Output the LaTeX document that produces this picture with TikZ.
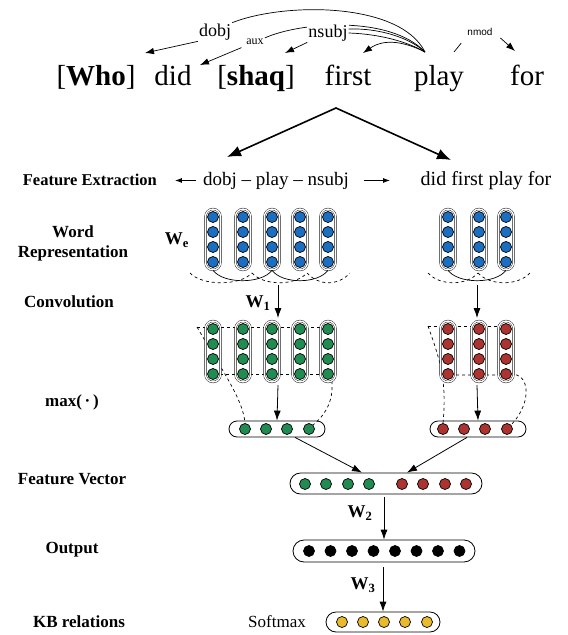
\documentclass[tikz,border=0pt]{standalone}
\usepackage{fontspec}
\setmainfont{Liberation Serif}
\newfontfamily\depsans{Liberation Sans}
\usetikzlibrary{arrows.meta,positioning,calc}

\definecolor{wblue}{RGB}{28,110,192}
\definecolor{cgreen}{RGB}{32,140,82}
\definecolor{pred}{RGB}{172,52,48}
\definecolor{syellow}{RGB}{232,186,44}

\tikzset{
  wordtok/.style={font=\fontsize{29}{31}\selectfont,inner sep=0pt,anchor=base},
  deplabel/.style={font=\fontsize{18}{20}\selectfont,fill=white,inner sep=1pt},
  fetext/.style={font=\fontsize{20}{22}\selectfont,inner sep=1pt,anchor=base},
  rowlabel/.style={font=\bfseries\fontsize{17}{20}\selectfont,align=center},
  mlabel/.style={font=\bfseries\fontsize{18}{20}\selectfont},
  unitdot/.style={circle,draw=black,line width=0.7pt,minimum size=11pt,inner sep=0pt},
  colbox/.style={draw=black,fill=white,double,double distance=1.4pt,rounded corners=7.5pt,
    minimum width=15pt,minimum height=61pt,inner sep=0pt},
  vecbox/.style={draw=black,fill=white,line width=0.8pt,inner sep=0pt},
  deparrow/.style={-{Latex[length=9pt,width=6.5pt]},line width=0.7pt},
  netarrow/.style={-{Latex[length=10pt,width=7pt]},line width=0.8pt},
  smallarrow/.style={-{Latex[length=7pt,width=5pt]},line width=0.8pt},
}

\begin{document}
\begin{tikzpicture}[x=1pt,y=-1pt]
\useasboundingbox (0,0) rectangle (568,635);
% question and its parse:
\node[wordtok] (who) at (96,85) {[\textbf{Who}]};
\node[wordtok] (did) at (173,85) {did};
\node[wordtok] (shaq) at (256,85) {[\textbf{shaq}]};
\node[wordtok] (first) at (348,85) {first};
\node[wordtok] (play) at (439,85) {play};
\node[wordtok] (for) at (527,85) {for};
\coordinate (playtop) at (425,52);
\coordinate (playright) at (454,52);
\coordinate (whotip) at (145,53);
\coordinate (didtip) at (200,65);
\coordinate (shaqtip) at (285,53);
\coordinate (firsttip) at (363,53);
\coordinate (fortip) at (515,51);
\node[deplabel] (ldobj) at (215,32) {dobj};
\draw[line width=0.7pt] (ldobj.north east) .. controls (285,2) and (400,2) .. (playtop);
\draw[deparrow] (ldobj.south west) -- (whotip);
\node[deplabel,font=\fontsize{12}{13}\selectfont] (laux) at (255,42) {aux};
\draw[line width=0.7pt] (laux.north east) .. controls (300,22) and (390,15) .. (playtop);
\draw[deparrow,shorten <=4pt] (laux.south west) -- (didtip);
\node[deplabel] (lnsubj) at (328,33) {nsubj};
\draw[line width=0.7pt] ([yshift=4pt]lnsubj.east) .. controls (380,28) and (410,38) .. (playtop);
\draw[line width=0.7pt] (lnsubj.east) .. controls (380,34) and (408,42) .. (playtop);
\draw[deparrow] (lnsubj.south west) -- (shaqtip);
\draw[deparrow] (playtop) .. controls (405,42) and (385,38) .. (firsttip);
\node[deplabel,font=\depsans\fontsize{10}{11}\selectfont] (lnmod) at (480,32) {nmod};
\draw[line width=0.7pt,shorten >=8pt] (playright) -- (lnmod.south west);
\draw[deparrow,shorten <=9pt] (lnmod.east) -- (fortip);

% feature extraction:
\node[rowlabel,font=\bfseries\fontsize{16.5}{18}\selectfont,anchor=base east,inner sep=0pt] (lfeat) at (157,185) {Feature Extraction};
\node[fetext,font=\fontsize{19}{21}\selectfont] (fepath) at (276,185) {dobj – play – nsubj};
\node[fetext] (fewords) at (486,185) {did first play for};
\coordinate (split) at (336,108);
\coordinate (fepathtip) at (227,157);
\coordinate (fewordstip) at (451,160);
\draw[line width=1.6pt,{Latex[length=14pt,width=11pt]}-{Latex[length=14pt,width=11pt]}] (fepathtip) -- (split) -- (fewordstip);
\coordinate[left=27pt of fepath.west] (feleft);
\coordinate[right=40pt of fepath.east] (feright);
\draw[smallarrow,shorten <=6pt] (fepath.west) -- (feleft);
\draw[smallarrow,shorten <=14pt] (fepath.east) -- (feright);

% row labels:
\node[rowlabel] (lword) at (73,243) {Word\\Representation};
\node[rowlabel,anchor=base] (lconv) at (69,307) {Convolution};
\node[rowlabel,anchor=base] (lmax) at (72,406) {max(\,·\,)};
\node[rowlabel,anchor=base] (lfv) at (72,484) {Feature Vector};
\node[rowlabel,anchor=base] (lout) at (72,553) {Output};
\node[rowlabel,anchor=base] (lkb) at (79,627) {KB relations};

% word representation:
\foreach \x [count=\i] in {213,243,272,300,328}{
  \node[colbox] (bl\i) at (\x,239.5) {};
  \foreach \y [count=\j] in {217,232,247,262}
    \node[unitdot,fill=wblue] (bl\i-\j) at (\x,\y) {};
}
\foreach \x [count=\i] in {448,479,506}{
  \node[colbox] (br\i) at (\x,239.5) {};
  \foreach \y [count=\j] in {217,232,247,262}
    \node[unitdot,fill=wblue] (br\i-\j) at (\x,\y) {};
}
\node[mlabel] (wemb) at (177,240) {W\textsubscript{e}};
\draw[line width=0.7pt] (bl1.south) .. controls +(10,14) and +(-10,14) .. (bl3.south);
\draw[line width=0.7pt] (bl3.south) .. controls +(10,14) and +(-10,14) .. (bl5.south);
\draw[line width=0.7pt] (br1.south) .. controls +(10,14) and +(-10,14) .. (br3.south);
\foreach \a/\b in {190/252,252/307,307/350,428/478,478/530}
  \draw[dashed,line width=0.7pt] (\a,273) .. controls +(12,13) and +(-12,13) .. (\b,273);

% convolution:
\coordinate (convinl) at (278,285);
\coordinate (convoutl) at (278,318);
\coordinate (convinr) at (477,285);
\coordinate (convoutr) at (477,318);
\draw[netarrow] (convinl) -- (convoutl);
\draw[netarrow] (convinr) -- (convoutr);
\node[mlabel] (w1) at (258,303) {W\textsubscript{1}};

% pooling:
\node[vecbox,minimum width=96pt,minimum height=16pt,rounded corners=8pt] (pl) at (277,429) {};
\foreach \x [count=\i] in {245,266,287,309}
  \node[unitdot,fill=cgreen] (pl-\i) at (\x,429) {};
\node[vecbox,minimum width=96pt,minimum height=16pt,rounded corners=8pt] (pr) at (478,429) {};
\foreach \x [count=\i] in {443,464,485,507}
  \node[unitdot,fill=pred] (pr-\i) at (\x,429) {};
\draw[dashed,line width=0.7pt] (197,327) -- (330,327);
\draw[dashed,line width=0.7pt] (214,374) -- (330,374);
\draw[dashed,line width=0.7pt] (197,327) .. controls (225,375) and (243,400) .. (pl-1.north);
\draw[dashed,line width=0.7pt] (332,327) -- (332,388) .. controls (332,405) and (322,418) .. (pl-4.north east);
\draw[dashed,line width=0.7pt] (428,326) -- (510,326);
\draw[dashed,line width=0.7pt] (450,375) -- (517,375) .. controls (530,380) and (530,405) .. (pr-4.north east);
\draw[dashed,line width=0.7pt] (428,326) .. controls (440,360) and (447,380) .. (pr-1.north);
\foreach \x [count=\i] in {213,243,272,300,328}{
  \node[colbox] (gl\i) at (\x,351.5) {};
  \foreach \y [count=\j] in {329,344,359,374}
    \node[unitdot,fill=cgreen] (gl\i-\j) at (\x,\y) {};
}
\foreach \x [count=\i] in {448,479,506}{
  \node[colbox] (rd\i) at (\x,351.5) {};
  \foreach \y [count=\j] in {329,344,359,374}
    \node[unitdot,fill=pred] (rd\i-\j) at (\x,\y) {};
}
\coordinate (poolinl) at (278,385);
\coordinate (poolinr) at (477,385);
\draw[netarrow] (poolinl) -- (pl.north);
\draw[netarrow] (poolinr) -- (pr.north);

% feature vector, output, softmax:
\node[vecbox,minimum width=192pt,minimum height=21pt,rounded corners=10.5pt] (fv) at (386,483.5) {};
\foreach \x [count=\i] in {305,326,348,369}
  \node[unitdot,fill=cgreen] (fv-\i) at (\x,484) {};
\foreach \x [count=\i] in {402,423,445,466}
  \node[unitdot,fill=pred] (fv-r\i) at (\x,484) {};
\draw[netarrow] ([xshift=18pt]pl.south) -- ([xshift=-24pt]fv.north);
\draw[netarrow] ([xshift=-11pt]pr.south) -- ([xshift=21pt]fv.north);
\node[vecbox,minimum width=182pt,minimum height=22pt,rounded corners=11pt] (out) at (384,551) {};
\foreach \x [count=\i] in {309,330.5,352,373.5,395,416.5,438,459.5}
  \node[unitdot,fill=black] (out-\i) at (\x,551) {};
\draw[netarrow,shorten <=3pt] (fv.south -| out.north) -- (out.north);
\node[mlabel] (w2) at (360,513) {W\textsubscript{2}};
\node[vecbox,minimum width=114pt,minimum height=20pt,rounded corners=10pt] (sm) at (383,622) {};
\foreach \x [count=\i] in {342,363,384,405,427}
  \node[unitdot,fill=syellow] (sm-\i) at (\x,622) {};
\draw[netarrow,shorten <=5pt] (out.south -| sm.north) -- (sm.north);
\node[mlabel] (w3) at (363,585) {W\textsubscript{3}};
\node[font=\fontsize{17}{18}\selectfont] (smlabel) at (277,622) {Softmax};
\end{tikzpicture}
\end{document}
